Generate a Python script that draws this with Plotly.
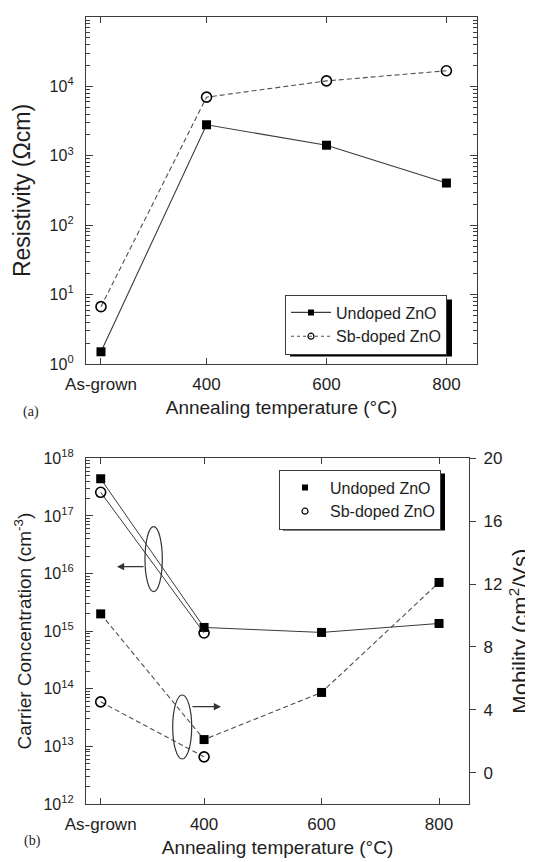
import plotly.graph_objects as go

# ---------------- data ----------------
temp_pos = [224, 400, 600, 800]
temp_labels = ["As-grown", "400", "600", "800"]

res_undoped = [1.5, 2800, 1420, 405]
res_sb = [6.7, 7000, 12000, 16800]

conc_undoped = [4.4e17, 1.16e15, 9.5e14, 1.36e15]
conc_sb = [2.57e17, 9.3e14]

mob_undoped = [10.1, 2.1, 5.1, 12.1]
mob_sb = [4.5, 1.0]

res_ticks = [1, 10, 100, 1e3, 1e4, 1e5]
res_ticktext = ["10<sup>%d</sup>" % i for i in range(0, 6)]
conc_ticks = [1e12, 1e13, 1e14, 1e15, 1e16, 1e17, 1e18]
conc_ticktext = ["10<sup>%d</sup>" % i for i in range(12, 19)]
mob_ticks = [0, 4, 8, 12, 16, 20]

# ---------------- layout geometry ----------------
# the page body adds an 8px margin, so the figure is drawn 8px in from the window corner
OFF = 8
W, H = 533 - OFF, 862 - OFF
ML = 86 - OFF
MT = 17 - OFF
MR = W - (477 - OFF)
MB = H - (804 - OFF)
PW, PH = W - ML - MR, H - MT - MB


def px(x):
    """window pixel x -> paper x"""
    return (x - OFF - ML) / PW


def py(y):
    """window pixel y -> paper y"""
    return (H - MB - (y - OFF)) / PH


FONT = "Liberation Sans, Arial, sans-serif"
TXT = "#1e1e1e"
AX = "#3c3c3c"
LINE = "#3a3a3a"
DASH = "#505050"


def minor_log(lo, hi):
    vals = []
    for e in range(lo, hi):
        for k in range(2, 10):
            vals.append(k * 10 ** e)
    return vals


fig = go.Figure()

# ---- panel (a) ----
fig.add_trace(go.Scatter(x=temp_pos, y=res_undoped, mode="lines+markers",
                         line=dict(color=LINE, width=1.1),
                         marker=dict(symbol="square", size=9, color="black"),
                         xaxis="x", yaxis="y", showlegend=False, name="Undoped ZnO"))
fig.add_trace(go.Scatter(x=temp_pos, y=res_sb, mode="lines+markers",
                         line=dict(color=DASH, width=1.1, dash="5px,3px"),
                         marker=dict(symbol="circle-open", size=10, color="black",
                                     line=dict(width=1.6)),
                         xaxis="x", yaxis="y", showlegend=False, name="Sb-doped ZnO"))
# legend entries (a)
fig.add_trace(go.Scatter(x=[None], y=[None], mode="lines+markers", name="Undoped ZnO",
                         line=dict(color=LINE, width=1.1),
                         marker=dict(symbol="square", size=6, color="black"),
                         xaxis="x", yaxis="y", legend="legend"))
fig.add_trace(go.Scatter(x=[None], y=[None], mode="lines+markers", name="Sb-doped ZnO",
                         line=dict(color=DASH, width=1.1, dash="3px,3px"),
                         marker=dict(symbol="circle-open", size=6, color="black",
                                     line=dict(width=1.2)),
                         xaxis="x", yaxis="y", legend="legend"))

# ---- panel (b) ----
fig.add_trace(go.Scatter(x=temp_pos, y=conc_undoped, mode="lines+markers",
                         line=dict(color=LINE, width=1.0),
                         marker=dict(symbol="square", size=9, color="black"),
                         xaxis="x2", yaxis="y2", showlegend=False, name="Undoped ZnO"))
fig.add_trace(go.Scatter(x=temp_pos[:2], y=conc_sb, mode="lines+markers",
                         line=dict(color=LINE, width=1.0),
                         marker=dict(symbol="circle-open", size=10, color="black",
                                     line=dict(width=1.6)),
                         xaxis="x2", yaxis="y2", showlegend=False, name="Sb-doped ZnO"))
fig.add_trace(go.Scatter(x=temp_pos, y=mob_undoped, mode="lines+markers",
                         line=dict(color=DASH, width=1.1, dash="5px,3px"),
                         marker=dict(symbol="square", size=9, color="black"),
                         xaxis="x2", yaxis="y3", showlegend=False, name="Undoped ZnO"))
fig.add_trace(go.Scatter(x=temp_pos[:2], y=mob_sb, mode="lines+markers",
                         line=dict(color=DASH, width=1.1, dash="5px,3px"),
                         marker=dict(symbol="circle-open", size=10, color="black",
                                     line=dict(width=1.6)),
                         xaxis="x2", yaxis="y3", showlegend=False, name="Sb-doped ZnO"))
# legend entries (b)
fig.add_trace(go.Scatter(x=[None], y=[None], mode="markers", name="Undoped ZnO",
                         marker=dict(symbol="square", size=6, color="black"),
                         xaxis="x2", yaxis="y2", legend="legend2"))
fig.add_trace(go.Scatter(x=[None], y=[None], mode="markers", name="Sb-doped ZnO",
                         marker=dict(symbol="circle-open", size=6, color="black",
                                     line=dict(width=1.2)),
                         xaxis="x2", yaxis="y2", legend="legend2"))

ya_bottom = py(364)
yb_top = py(458.3)
xb_right = px(469)


def xaxis_style(standoff):
    return dict(range=[199, 851], tickmode="array", tickvals=temp_pos, ticktext=temp_labels,
                ticks="inside", ticklen=6, tickcolor=AX, tickwidth=1.1,
                showline=True, linecolor=AX, linewidth=1.3, mirror="ticks",
                showgrid=False, zeroline=False,
                tickfont=dict(family=FONT, size=17, color=TXT),
                ticklabelstandoff=4, automargin=False,
                title=dict(text="Annealing temperature (°C)",
                           font=dict(family=FONT, size=19, color=TXT), standoff=standoff))


LEG_A = (285.0, 294.5)   # window px of legend (a) top-left
LEG_B = (279.0, 469.5)   # window px of legend (b) top-left
LEG_W, LEG_H = 162, 57   # approximate rendered legend box size

fig.update_layout(
    width=W, height=H,
    margin=dict(l=ML, r=MR, t=MT, b=MB),
    paper_bgcolor="white", plot_bgcolor="white",
    font=dict(family=FONT, color=TXT),
    xaxis=dict(domain=[0, 1], anchor="y", **xaxis_style(8)),
    yaxis=dict(domain=[ya_bottom, 1], anchor="x", type="log", range=[0, 5],
               tickmode="array", tickvals=res_ticks, ticktext=res_ticktext,
               ticks="inside", ticklen=7, tickcolor=AX, tickwidth=1.1,
               minor=dict(tickmode="array", tickvals=minor_log(0, 5), ticks="inside",
                          ticklen=3.5, tickcolor=AX, tickwidth=0.9),
               showline=True, linecolor=AX, linewidth=1.3, mirror="ticks",
               showgrid=False, zeroline=False,
               tickfont=dict(family=FONT, size=16, color=TXT),
               ticklabelstandoff=8, automargin=False,
               title=dict(text="Resistivity (Ωcm)",
                          font=dict(family=FONT, size=23, color=TXT), standoff=12)),
    xaxis2=dict(domain=[0, xb_right], anchor="y2", **xaxis_style(8)),
    yaxis2=dict(domain=[0, yb_top], anchor="x2", type="log", range=[12, 18],
                tickmode="array", tickvals=conc_ticks, ticktext=conc_ticktext,
                ticks="inside", ticklen=7, tickcolor=AX, tickwidth=1.1,
                minor=dict(tickmode="array", tickvals=minor_log(12, 18), ticks="inside",
                           ticklen=3.5, tickcolor=AX, tickwidth=0.9),
                showline=True, linecolor=AX, linewidth=1.3, mirror=False,
                showgrid=False, zeroline=False,
                tickfont=dict(family=FONT, size=16, color=TXT),
                ticklabelstandoff=8, automargin=False,
                title=dict(text="Carrier Concentration (cm<sup>-3</sup>)",
                           font=dict(family=FONT, size=19, color=TXT), standoff=6)),
    yaxis3=dict(overlaying="y2", anchor="x2", side="right", range=[-2, 20],
                tickmode="array", tickvals=mob_ticks,
                ticks="outside", ticklen=6, tickcolor=AX, tickwidth=1.1,
                showline=True, linecolor=AX, linewidth=1.3,
                showgrid=False, zeroline=False,
                tickfont=dict(family=FONT, size=17, color=TXT),
                ticklabelstandoff=4, automargin=False,
                title=dict(text="Mobility (cm<sup>2</sup>/Vs)",
                           font=dict(family=FONT, size=22, color=TXT), standoff=14)),
    legend=dict(x=px(LEG_A[0]), y=py(LEG_A[1]), xanchor="left", yanchor="top",
                bgcolor="white", bordercolor=AX, borderwidth=1,
                font=dict(family=FONT, size=16, color=TXT),
                itemwidth=40, tracegroupgap=0),
    legend2=dict(x=px(LEG_B[0]), y=py(LEG_B[1]), xanchor="left", yanchor="top",
                 bgcolor="white", bordercolor=AX, borderwidth=1,
                 font=dict(family=FONT, size=16, color=TXT),
                 itemwidth=40, tracegroupgap=0),
)

shapes = []
# legend drop shadows (offset down-right behind each legend box)
for (lx, ly), d in ((LEG_A, 5), (LEG_B, 4)):
    shapes.append(dict(type="rect", xref="paper", yref="paper",
                       x0=px(lx + d), x1=px(lx + LEG_W + d),
                       y0=py(ly + LEG_H + d), y1=py(ly + d),
                       fillcolor="black", line=dict(width=0), layer="above"))
# ellipses grouping the series
shapes.append(dict(type="circle", xref="paper", yref="paper",
                   x0=px(145), x1=px(162.3), y0=py(591.7), y1=py(526.7),
                   line=dict(color="#333", width=1.2)))
shapes.append(dict(type="circle", xref="paper", yref="paper",
                   x0=px(172.7), x1=px(191.7), y0=py(759), y1=py(695),
                   line=dict(color="#333", width=1.2)))
fig.update_layout(shapes=shapes)

annotations = [
    dict(x=px(117), y=py(566.7), xref="paper", yref="paper", text="",
         showarrow=True, ax=28, ay=0, arrowhead=2, arrowsize=1.2, arrowwidth=1.2,
         arrowcolor="#333"),
    dict(x=px(221), y=py(706.7), xref="paper", yref="paper", text="",
         showarrow=True, ax=-30, ay=0, arrowhead=2, arrowsize=1.2, arrowwidth=1.2,
         arrowcolor="#333"),
    dict(x=px(21), y=py(412), xref="paper", yref="paper", text="(a)", showarrow=False,
         font=dict(family="Liberation Serif, Times New Roman, serif", size=14, color=TXT)),
    dict(x=px(22), y=py(851), xref="paper", yref="paper", text="(b)", showarrow=False,
         font=dict(family="Liberation Serif, Times New Roman, serif", size=14, color=TXT)),
]
fig.update_layout(annotations=annotations)

fig.write_html("out.html")
